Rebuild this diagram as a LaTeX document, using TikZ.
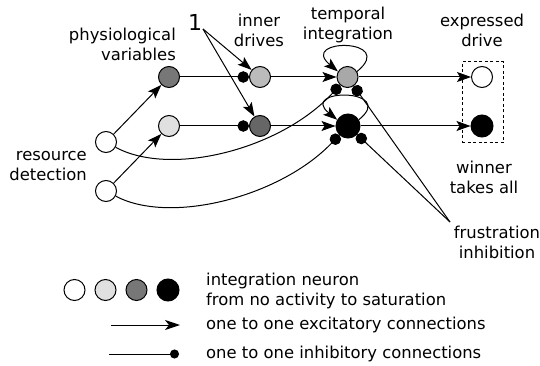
\documentclass[tikz,border=0pt]{standalone}
\usepackage{fontspec}
\setmainfont{DejaVu Sans}
\usetikzlibrary{arrows.meta}
\definecolor{gA}{HTML}{E0E0E0}
\definecolor{gB}{HTML}{BBBBBB}
\definecolor{gC}{HTML}{A8A8A8}
\definecolor{gD}{HTML}{777777}
\definecolor{gE}{HTML}{666666}
\begin{document}
\begin{tikzpicture}[x=1pt,y=-1pt,
  neuron/.style={circle,draw,line width=1pt,minimum size=21pt,inner sep=0pt},
  lbl/.style={font=\fontsize{16.4}{20}\selectfont,align=center,inner sep=0pt},
  exc/.style={line width=1pt,-{Stealth[length=14pt,width=10pt,inset=3pt]}},
  excs/.style={line width=1pt,-{Stealth[length=15pt,width=10pt,inset=4pt]}},
  inh/.style={line width=1pt,-{Circle[length=11.5pt]}},
  inhs/.style={line width=1pt,-{Circle[length=9pt]}},
]
\useasboundingbox (0,0) rectangle (540,366);
% neurons
\node[neuron] (rd1) at (106,142) {};
\node[neuron] (rd2) at (106,191) {};
\node[neuron,fill=gD] (pv1) at (169,77) {};
\node[neuron,fill=gA] (pv2) at (169,126) {};
\node[neuron,fill=gB] (id1) at (260,77) {};
\node[neuron,fill=gE] (id2) at (260,126) {};
\node[neuron,fill=gC] (ti1) at (347.5,77) {};
\node[neuron,fill=black,minimum size=24pt] (ti2) at (348,126) {};
\node[neuron] (ed1) at (482,77) {};
\node[neuron,fill=black,minimum size=22pt] (ed2) at (482,126) {};
\node[draw,dash pattern=on 3pt off 2.5pt,line width=1pt,minimum width=41pt,minimum height=81pt,inner sep=0pt] (wta) at (482.5,102.5) {};
% labels
\node[lbl,anchor=east,align=right] (lpv) at (176,44.5) {physiological\\variables};
\node[lbl,anchor=east,align=right] (lrd) at (87,166.5) {resource\\detection};
\node[lbl] (lid) at (259,30) {inner\\drives};
\node[lbl] (lti) at (348,25) {temporal\\integration};
\node[lbl] (led) at (482,30) {expressed\\drive};
\node[lbl] (lwta) at (484,177) {winner\\takes all};
\node[lbl] (lfr) at (497,242) {frustration\\inhibition};
\node[font=\fontsize{22}{22}\selectfont,inner sep=0pt] (one) at (195,22) {1};
% connections
\draw[exc] (rd1) -- (pv1);
\draw[exc] (rd2) -- (pv2);
\draw[inh] (pv1) -- (id1);
\draw[inh] (pv2) -- (id2);
\draw[exc] (id1) -- (ti1);
\draw[exc] (id2) -- (ti2);
\draw[exc] (ti1) -- (ed1);
\draw[exc] (ti2) -- (ed2);
\draw[inh] (rd1) .. controls (170,177) and (280,150) .. (ti1);
\draw[inh] (rd2) .. controls (170,225) and (280,197) .. (ti2);
\draw[exc] (ti1.30) .. controls (398,38) and (298,38) .. (ti1.150);
\draw[exc] (ti2.30) .. controls (398,88) and (298,88) .. (ti2.150);
\coordinate (fr) at (450,222);
\draw[inh] (fr) -- (ti1);
\draw[inh] (fr) -- (ti2);
\coordinate (onept) at (203,29);
\draw[exc] (onept) -- (id1);
\draw[exc] (onept) -- (id2);
% legend
\node[neuron] (l1) at (74.5,290) {};
\node[neuron,fill=gA] (l2) at (105.5,290) {};
\node[neuron,fill=gD] (l3) at (136.5,290) {};
\node[neuron,fill=black,minimum size=22pt] (l4) at (168,290) {};
\node[lbl,align=left,anchor=west] (lt1) at (206,291) {integration neuron\\from no activity to saturation};
\coordinate (ea) at (111,325);
\coordinate (eb) at (180,325);
\draw[excs] (ea) -- (eb);
\node[lbl,anchor=base west] (lt2) at (206,329) {one to one excitatory connections};
\coordinate (ia) at (109,354);
\coordinate (ib) at (179,354);
\draw[inhs] (ia) -- (ib);
\node[lbl,anchor=base west] (lt3) at (206,358) {one to one inhibitory connections};
\end{tikzpicture}
\end{document}
